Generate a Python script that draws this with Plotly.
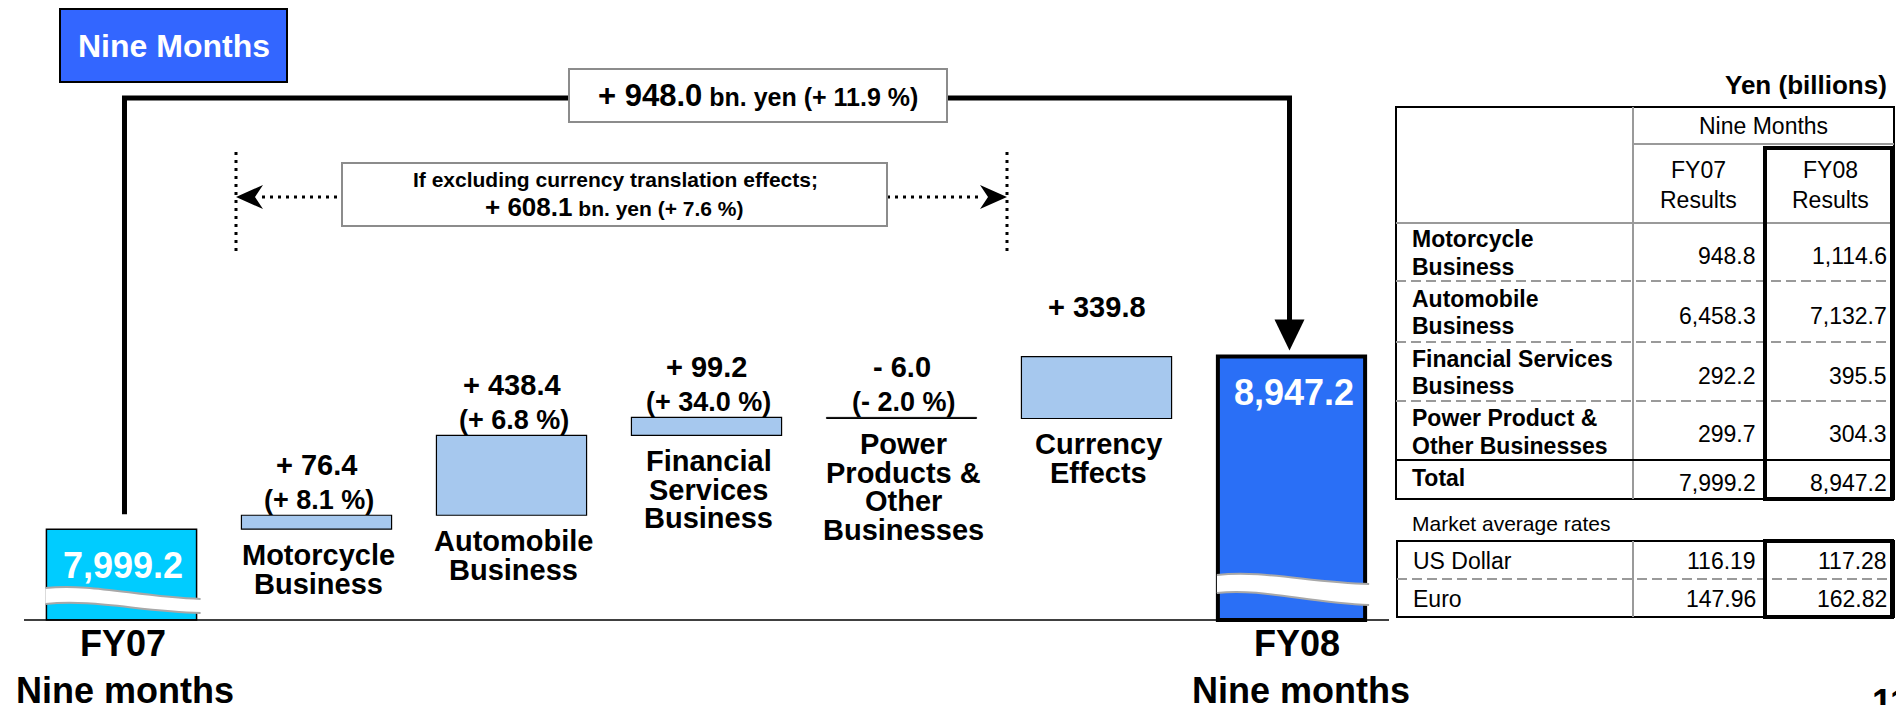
import plotly.graph_objects as go

W, H = 1896, 705
FONT = "Liberation Sans, Arial, Helvetica, sans-serif"

# ---- data (bn. yen) ---------------------------------------------------------
FY07_TOTAL = 7999.2
FY08_TOTAL = 8947.2
SEGMENTS = ["Motorcycle<br>Business", "Automobile<br>Business",
            "Financial<br>Services<br>Business",
            "Power<br>Products &<br>Other<br>Businesses",
            "Currency<br>Effects"]
CHANGES = [76.4, 438.4, 99.2, -6.0, 339.8]
CHANGE_PCT = [8.1, 6.8, 34.0, -2.0, None]
TOTAL_CHANGE, TOTAL_CHANGE_PCT = 948.0, 11.9
EXCL_FX_CHANGE, EXCL_FX_PCT = 608.1, 7.6

TABLE_ROWS = ["Motorcycle<br>Business", "Automobile<br>Business",
              "Financial Services<br>Business", "Power Product &<br>Other Businesses"]
FY07_RESULTS = [948.8, 6458.3, 292.2, 299.7]
FY08_RESULTS = [1114.6, 7132.7, 395.5, 304.3]
CURRENCIES = ["US Dollar", "Euro"]
RATE_FY07 = [116.19, 147.96]
RATE_FY08 = [117.28, 162.82]

# ---- geometry (pixels) ------------------------------------------------------
X_LEFT, X_RIGHT = 24, 1389       # horizontal extent of the waterfall
Y_BASE = 620                     # baseline
BREAK_BASE = 7500                # value sitting on the (broken) baseline
SCALE = 0.182                    # px per bn. yen
N = 7
STEP = (X_RIGHT - X_LEFT) / N


def px(x):
    return x / W


def py(y):
    return 1 - y / H


def xc(i):
    return X_LEFT + (i + 0.5) * STEP


def yv(v):
    return Y_BASE - (v - BREAK_BASE) * SCALE


def P(x, y):
    return f"{px(x):.5f},{py(y):.5f}"


# ---- waterfall bars ---------------------------------------------------------
bases, heights, colors = [BREAK_BASE], [FY07_TOTAL - BREAK_BASE], ["#00CCFF"]
run = FY07_TOTAL
for c in CHANGES:
    bases.append(run if c >= 0 else run + c)
    heights.append(abs(c))
    colors.append("#A6C8EE" if c >= 0 else "#EDEDED")
    run += c
bases.append(BREAK_BASE)
heights.append(FY08_TOTAL - BREAK_BASE)
colors.append("#2A6FF6")
line_w = [1.5] + [1.2 if c >= 0 else 1.0 for c in CHANGES] + [4]
widths = [0.77] * 6 + [0.755]

fig = go.Figure(go.Bar(
    x=list(range(N)), y=heights, base=bases, width=widths,
    marker=dict(color=colors, line=dict(color="black", width=line_w)),
    hoverinfo="skip",
))

shapes, notes = [], []


def rect(x0, y0, x1, y1, fill="rgba(0,0,0,0)", color="black", w=2):
    shapes.append(dict(type="rect", xref="paper", yref="paper",
                       x0=px(x0), x1=px(x1), y0=py(y1), y1=py(y0),
                       fillcolor=fill, line=dict(color=color, width=w)))


def seg(x0, y0, x1, y1, color="black", w=2, dash="solid"):
    shapes.append(dict(type="line", xref="paper", yref="paper",
                       x0=px(x0), x1=px(x1), y0=py(y0), y1=py(y1),
                       line=dict(color=color, width=w, dash=dash)))


def path(d, fill="rgba(0,0,0,0)", color="black", w=0):
    shapes.append(dict(type="path", xref="paper", yref="paper", path=d,
                       fillcolor=fill, line=dict(color=color, width=w)))


def text(x, y, s, size, color="black", bold=True, xanchor="center"):
    notes.append(dict(x=px(x), y=py(y), xref="paper", yref="paper",
                      text=f"<b>{s}</b>" if bold else s, showarrow=False,
                      xanchor=xanchor, yanchor="middle",
                      font=dict(family=FONT, size=size, color=color)))


def wave(i, tl, tr, bl, br):
    half = widths[i] / 2 * STEP
    xl, xr = xc(i) - half - 1, xc(i) + half + 4
    w = xr - xl
    top = f"M{P(xl, tl)} C{P(xl + .3 * w, tl - 5)} {P(xl + .6 * w, tr - 2)} {P(xr, tr)}"
    bot = f"M{P(xl, bl)} C{P(xl + .3 * w, bl - 5)} {P(xl + .6 * w, br - 2)} {P(xr, br)}"
    band = (f"M{P(xl, tl)} C{P(xl + .3 * w, tl - 5)} {P(xl + .6 * w, tr - 2)} {P(xr, tr)}"
            f" L{P(xr, br)} C{P(xl + .6 * w, br - 2)} {P(xl + .3 * w, bl - 5)} {P(xl, bl)} Z")
    path(band, fill="white")
    path(top, color="#A8A8A8", w=2)
    path(bot, color="#A8A8A8", w=2)


# baseline + axis breaks
seg(X_LEFT, Y_BASE, X_RIGHT, Y_BASE, w=1.5)
wave(0, 588, 599, 604, 613)
wave(6, 575, 584, 593, 605)

# totals inside the end bars and below them
for i, v in ((0, FY07_TOTAL), (6, FY08_TOTAL)):
    text(xc(i) + 2, yv(v) + 36, f"{v:,.1f}", 36, color="white")
text(xc(0) + 2, 643, "FY07", 36)
text(xc(0) + 3, 690, "Nine months", 36)
text(xc(6) + 5, 643, "FY08", 36)
text(xc(6) + 9, 690, "Nine months", 36)

# increment labels
for k, c in enumerate(CHANGES):
    i = k + 1
    top = yv(bases[i] + heights[i])
    bottom = yv(bases[i])
    sign = "+" if c >= 0 else "-"
    text(xc(i), top - 50, f"{sign} {abs(c):.1f}", 29)
    if CHANGE_PCT[k] is not None:
        p = CHANGE_PCT[k]
        text(xc(i) + 2, top - 15, f"({'+' if p >= 0 else '-'} {abs(p):.1f} %)", 27)
    for j, ln in enumerate(SEGMENTS[k].split("<br>")):
        text(xc(i) + 2, bottom + 26 + j * 28.5, ln, 29)

# overall bracket with arrow into FY08
bx0, bx1, btop = xc(0) + 3, xc(6) - 2, 98
tip = yv(FY08_TOTAL) - 6
path(f"M{P(bx0, yv(FY07_TOTAL) - 15)} L{P(bx0, btop)} L{P(bx1, btop)} L{P(bx1, tip - 28)}",
     color="black", w=5)
path(f"M{P(bx1 - 15, tip - 31)} L{P(bx1 + 15, tip - 31)} L{P(bx1, tip)} Z", fill="black")
rect(569, 69, 947, 122, fill="white", color="#8C8C8C", w=2)
text(758, 96, f"<span style='font-size:31px'>+ {TOTAL_CHANGE:.1f}</span>"
     f" bn. yen (+ {TOTAL_CHANGE_PCT:.1f} %)", 25)

# excluding-currency bracket (dotted)
for x in (236, 1007):
    seg(x, 152, x, 252, w=3, dash="3px,5px")
seg(262, 197, 341, 197, w=3, dash="3px,5px")
seg(887, 197, 982, 197, w=3, dash="3px,5px")
path(f"M{P(236, 197)} L{P(263, 185)} L{P(255, 197)} L{P(263, 209)} Z", fill="black")
path(f"M{P(1007, 197)} L{P(980, 185)} L{P(988, 197)} L{P(980, 209)} Z", fill="black")
rect(342, 163, 887, 226, fill="white", color="#8C8C8C", w=2)
text(615, 180, "If excluding currency translation effects;", 21)
text(614, 207, f"<span style='font-size:26px'>+ {EXCL_FX_CHANGE:.1f}</span>"
     f" bn. yen (+ {EXCL_FX_PCT:.1f} %)", 21)

# title tab
rect(60, 9, 287, 82, fill="#3366FF", color="black", w=2)
text(174, 46, "Nine Months", 32, color="white")

# ---- results table ----------------------------------------------------------
T_L, T_R, C1, C2 = 1396, 1894, 1633, 1765
ROW_EDGES = [223, 281, 342, 401, 460, 499]
GRAY = "#9A9A9A"
text(1889, 85, "Yen (billions)", 26, xanchor="right")
rect(T_L, 107, T_R, 499, w=2)
seg(C1, 107, C1, 499, color=GRAY)
seg(C1, 144, T_R, 144, color=GRAY)
seg(T_L, 223, T_R, 223, color=GRAY)
for e in ROW_EDGES[1:4]:
    seg(T_L, e, T_R, e, color=GRAY, dash="10px,5px")
seg(T_L, 460, T_R, 460, w=2)
text(1763, 126, "Nine Months", 23, bold=False)
text(1698, 170, "FY07", 23, bold=False)
text(1698, 200, "Results", 23, bold=False)
text(1830, 170, "FY08", 23, bold=False)
text(1830, 200, "Results", 23, bold=False)
for r, lab in enumerate(TABLE_ROWS):
    mid = (ROW_EDGES[r] + ROW_EDGES[r + 1]) / 2
    for j, ln in enumerate(lab.split("<br>")):
        text(1410, mid - 13 + j * 28, ln, 23, xanchor="left")
    text(1758, mid + 4, f"{FY07_RESULTS[r]:,.1f}", 23, bold=False, xanchor="right")
    text(1889, mid + 4, f"{FY08_RESULTS[r]:,.1f}", 23, bold=False, xanchor="right")
text(1410, 478, "Total", 23, xanchor="left")
text(1758, 483, f"{FY07_TOTAL:,.1f}", 23, bold=False, xanchor="right")
text(1889, 483, f"{FY08_TOTAL:,.1f}", 23, bold=False, xanchor="right")
rect(C2, 148, 1892, 499, w=4)

text(1410, 523, "Market average rates", 21, bold=False, xanchor="left")
RATE_EDGES = [541, 579, 617]
rect(1397, 541, T_R, 617, w=2)
seg(C1, 541, C1, 617, color=GRAY)
seg(1397, 579, T_R, 579, color=GRAY, dash="10px,5px")
for r, cur in enumerate(CURRENCIES):
    mid = (RATE_EDGES[r] + RATE_EDGES[r + 1]) / 2
    text(1411, mid + 1, cur, 23, bold=False, xanchor="left")
    text(1758, mid + 1, f"{RATE_FY07[r]:.2f}", 23, bold=False, xanchor="right")
    text(1889, mid + 1, f"{RATE_FY08[r]:.2f}", 23, bold=False, xanchor="right")
rect(C2, 541, 1892, 617, w=4)

# page number (cut off at the slide edge)
text(1870, 702, "11", 36, xanchor="left")

fig.update_layout(
    width=W, height=H, margin=dict(l=0, r=0, t=0, b=0),
    paper_bgcolor="white", plot_bgcolor="white", showlegend=False,
    xaxis=dict(domain=[px(X_LEFT), px(X_RIGHT)], range=[-0.5, N - 0.5], visible=False),
    yaxis=dict(domain=[0, 1], visible=False,
               range=[BREAK_BASE - (H - Y_BASE) / SCALE, BREAK_BASE + Y_BASE / SCALE]),
    shapes=shapes, annotations=notes,
)

fig.write_html("out.html", config={"displayModeBar": False},
               post_script="document.body.style.margin='0';")
